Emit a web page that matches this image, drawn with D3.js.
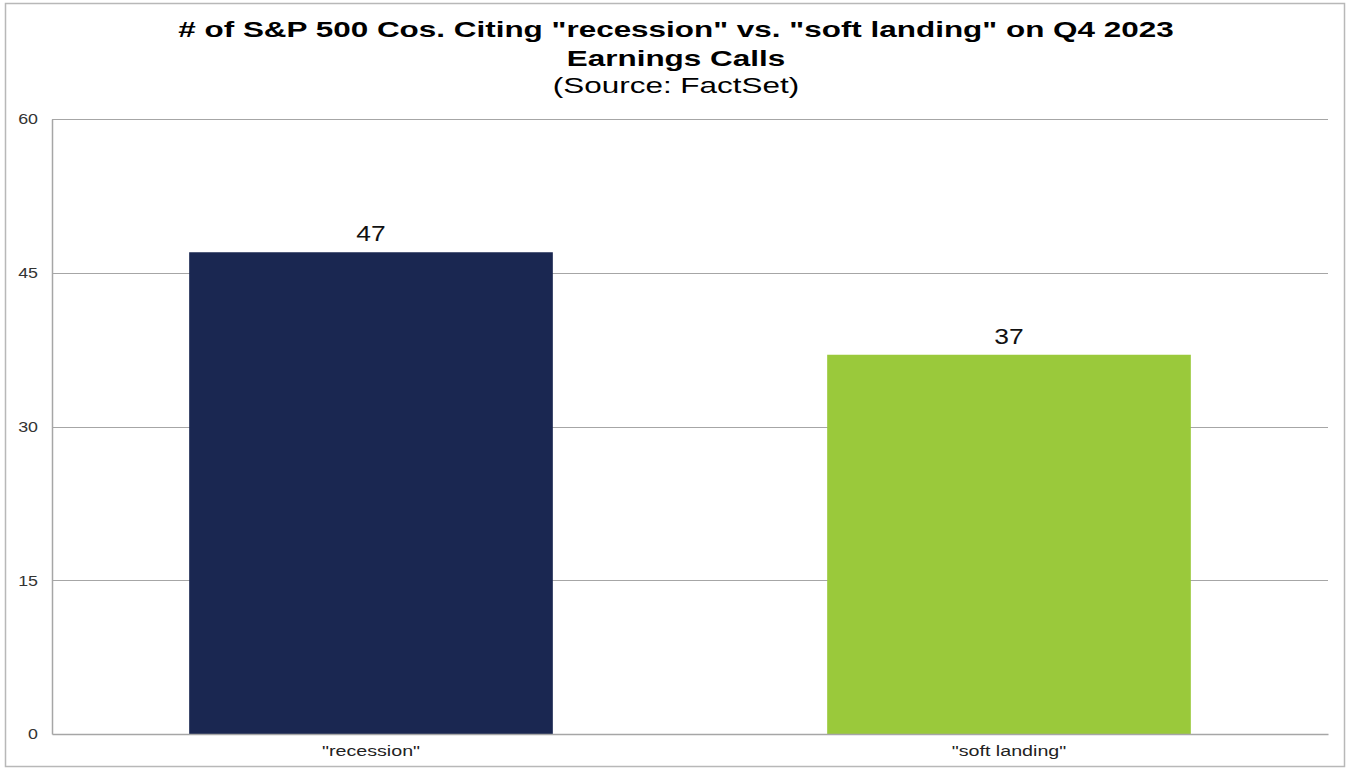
<!DOCTYPE html>
<html>
<head>
<meta charset="utf-8">
<script src="https://cdn.jsdelivr.net/npm/d3@7"></script>
<style>
  html, body { margin: 0; padding: 0; background: #fff; }
  svg { display: block; font-family: "Liberation Sans", Arial, sans-serif; }
</style>
</head>
<body>
<svg id="chart" width="1351" height="770"></svg>
<script>
// Mentions on Q4 2023 earnings calls
const categories = ['"recession"', '"soft landing"'];
const counts = [47, 37];
const barColors = ["#1a2751", "#9ac93b"];
const yTicks = [0, 15, 30, 45, 60];
const titleLines = ['# of S&P 500 Cos. Citing "recession" vs. "soft landing" on Q4 2023', "Earnings Calls"];
const subtitle = "(Source: FactSet)";

const svg = d3.select("#chart");
const plot = { left: 52, right: 1328, top: 119, bottom: 734 };

// widen text horizontally about its anchor x
function widen(sel, k) {
  sel.each(function () {
    const t = d3.select(this);
    const ax = +t.attr("x") || 0;
    t.attr("transform", `translate(${ax},0) scale(${k},1) translate(${-ax},0)`);
  });
}

// outer frame
svg.append("rect")
  .attr("x", 5.5).attr("y", 3.5)
  .attr("width", 1339).attr("height", 763)
  .attr("fill", "#fff").attr("stroke", "#b8b8b8").attr("stroke-width", 1.5);

const x = d3.scaleBand()
  .domain(categories)
  .range([plot.left, plot.right])
  .paddingInner(0.43)
  .paddingOuter(0.215);

const y = d3.scaleLinear()
  .domain([0, 60])
  .range([plot.bottom, plot.top]);

// horizontal gridlines
svg.append("g")
  .selectAll("line")
  .data(yTicks.filter(d => d > 0))
  .join("line")
  .attr("x1", plot.left).attr("x2", plot.right)
  .attr("y1", d => Math.round(y(d)) + 0.5).attr("y2", d => Math.round(y(d)) + 0.5)
  .attr("stroke", "#a6a6a6").attr("stroke-width", 1.2);

// bars
svg.append("g")
  .selectAll("rect")
  .data(counts)
  .join("rect")
  .attr("x", (d, i) => x(categories[i]))
  .attr("width", x.bandwidth())
  .attr("y", d => y(d))
  .attr("height", d => y(0) - y(d))
  .attr("fill", (d, i) => barColors[i]);

// value labels
svg.append("g")
  .selectAll("text")
  .data(counts)
  .join("text")
  .attr("x", (d, i) => x(categories[i]) + x.bandwidth() / 2)
  .attr("y", d => y(d) - 11)
  .attr("text-anchor", "middle")
  .attr("font-size", 22)
  .attr("fill", "#111")
  .text(d => d)
  .call(widen, 1.2);

// y axis
const yAxis = svg.append("g")
  .attr("transform", `translate(${plot.left},0)`)
  .call(d3.axisLeft(y).tickValues(yTicks).tickSize(0).tickPadding(14).tickFormat(d3.format("d")));
yAxis.select(".domain").attr("stroke", "#a6a6a6").attr("stroke-width", 1.5);
yAxis.selectAll("text")
  .attr("font-size", 15.5).attr("fill", "#333")
  .attr("font-family", "Liberation Sans, Arial, sans-serif")
  .call(widen, 1.15);

// x axis
const xAxis = svg.append("g")
  .attr("transform", `translate(0,${plot.bottom})`)
  .call(d3.axisBottom(x).tickSize(0).tickPadding(11));
xAxis.select(".domain").attr("stroke", "#a6a6a6").attr("stroke-width", 1.5);
xAxis.selectAll("text")
  .attr("font-size", 15.5).attr("fill", "#222")
  .attr("font-family", "Liberation Sans, Arial, sans-serif")
  .call(widen, 1.27);

// title
const cx = 676;
svg.append("g")
  .selectAll("text")
  .data(titleLines)
  .join("text")
  .attr("x", cx)
  .attr("y", (d, i) => 37 + i * 29)
  .attr("text-anchor", "middle")
  .attr("font-size", 22)
  .attr("font-weight", "bold")
  .attr("fill", "#000")
  .text(d => d)
  .call(widen, 1.43);

svg.append("text")
  .attr("x", cx)
  .attr("y", 93)
  .attr("text-anchor", "middle")
  .attr("font-size", 22)
  .attr("fill", "#000")
  .text(subtitle)
  .call(widen, 1.43);
</script>
</body>
</html>
